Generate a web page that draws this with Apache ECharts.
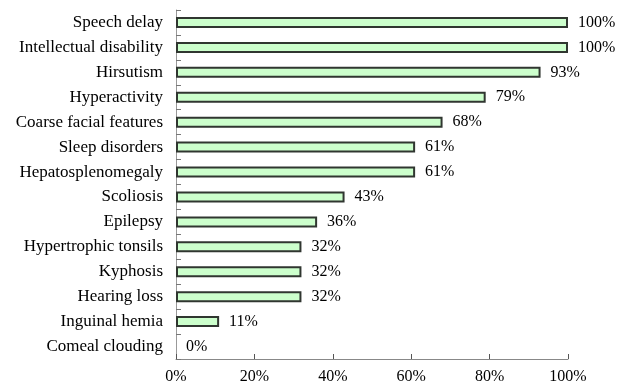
<!DOCTYPE html>
<html>
<head>
<meta charset="utf-8">
<script src="https://cdn.jsdelivr.net/npm/echarts@6/dist/echarts.min.js"></script>
<style>
  html, body { margin: 0; padding: 0; background: #fff; }
  #chart { width: 617px; height: 386px; }
</style>
</head>
<body>
<div id="chart"></div>
<script>
// Clinical features, listed top to bottom
const categories = [
  'Speech delay', 'Intellectual disability', 'Hirsutism', 'Hyperactivity',
  'Coarse facial features', 'Sleep disorders', 'Hepatosplenomegaly', 'Scoliosis',
  'Epilepsy', 'Hypertrophic tonsils', 'Kyphosis', 'Hearing loss',
  'Inguinal hemia', 'Comeal clouding'
];
// Share of patients with each feature (%)
const percentages = [100, 100, 93, 79, 68, 61, 61, 43, 36, 32, 32, 32, 11, 0];
const xTicks = [0, 20, 40, 60, 80, 100];

const font = '"Liberation Serif", "Times New Roman", serif';
const chart = echarts.init(document.getElementById('chart'));

chart.setOption({
  animation: false,
  grid: { left: 176, right: 49, top: 10, bottom: 27, containLabel: false },
  xAxis: {
    type: 'value',
    min: xTicks[0],
    max: xTicks[xTicks.length - 1],
    interval: 20,
    axisLine: { show: true, lineStyle: { color: '#888', width: 1 } },
    axisTick: { show: true, inside: true, length: 5, lineStyle: { color: '#555' } },
    splitLine: { show: false },
    axisLabel: {
      formatter: v => v + '%',
      fontFamily: font, fontSize: 16, color: '#000', margin: 10
    }
  },
  yAxis: {
    type: 'category',
    data: categories,
    inverse: true,
    axisLine: { show: true, lineStyle: { color: '#999', width: 1 } },
    axisTick: { show: true, inside: true, length: 5, lineStyle: { color: '#777' } },
    axisLabel: { fontFamily: font, fontSize: 17, color: '#000', margin: 13 }
  },
  series: [{
    type: 'bar',
    // zero-valued bars get no outline so nothing is drawn for them
    data: percentages.map(v => v === 0
      ? { value: v, itemStyle: { borderWidth: 0 } }
      : v),
    barWidth: 11,
    itemStyle: { color: '#ccffcc', borderColor: '#303630', borderWidth: 2 },
    label: {
      show: true,
      position: 'right',
      distance: 10,
      formatter: p => p.value + '%',
      fontFamily: font, fontSize: 16, color: '#000'
    }
  }]
});
</script>
</body>
</html>
